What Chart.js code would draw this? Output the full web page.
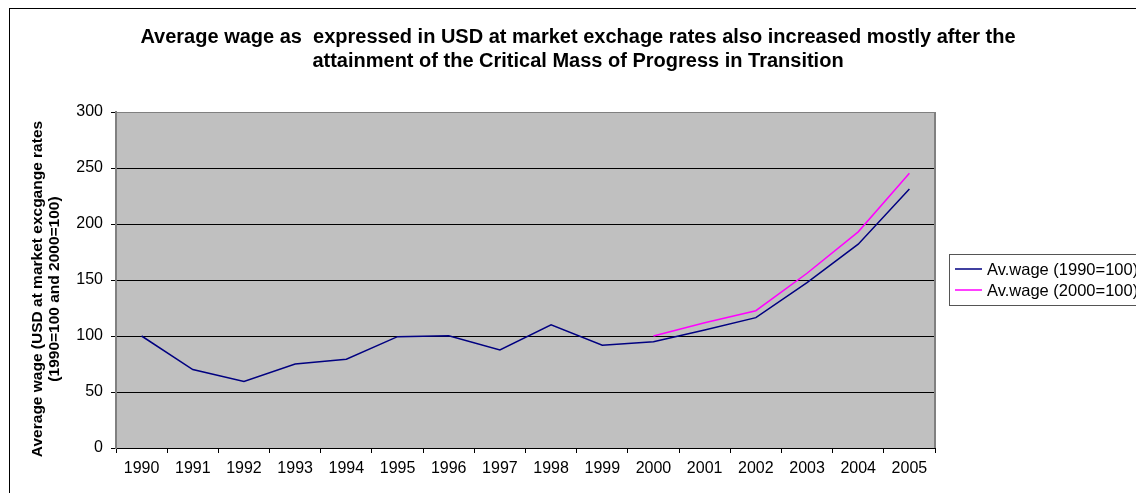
<!DOCTYPE html>
<html>
<head>
<meta charset="utf-8">
<script src="https://cdn.jsdelivr.net/npm/chart.js@4/dist/chart.umd.min.js"></script>
<style>
  html, body { margin: 0; padding: 0; background: #fff; }
  #wrap { width: 1136px; height: 493px; position: relative; }
</style>
</head>
<body>
<div id="wrap"><canvas id="wageChart"></canvas></div>
<script>
const years = ['1990', '1991', '1992', '1993', '1994', '1995', '1996', '1997',
  '1998', '1999', '2000', '2001', '2002', '2003', '2004', '2005'];
const wage1990 = [100, 70, 59.5, 75, 79.2, 99.4, 100.3, 87.5, 110, 91.7, 94.8,
  105.4, 116.4, 147.6, 182, 231.3];
const wage2000 = [null, null, null, null, null, null, null, null, null, null,
  100, 111.8, 122.6, 156, 193, 245.3];
const yTicks = [0, 50, 100, 150, 200, 250, 300];

const titleLines = [
  'Average wage as  expressed in USD at market exchage rates also increased mostly after the',
  'attainment of the Critical Mass of Progress in Transition'
];
const yTitleLines = [
  'Average wage (USD at market excgange rates',
  '(1990=100 and 2000=100)'
];

const FONT = '"Liberation Sans", Arial, sans-serif';

// background, frame, title, axis title and legend
const decor = {
  id: 'decor',
  beforeDraw(chart) {
    const { ctx, chartArea: a } = chart;
    ctx.save();
    ctx.fillStyle = '#fff';
    ctx.fillRect(0, 0, chart.width, chart.height);
    ctx.strokeStyle = '#000';
    ctx.lineWidth = 1;
    ctx.strokeRect(9.5, 8.5, chart.width + 20, chart.height + 20);
    ctx.fillStyle = '#c0c0c0';
    ctx.fillRect(a.left, a.top, a.right - a.left, a.bottom - a.top);
    ctx.restore();
  },
  afterDraw(chart) {
    const { ctx, chartArea: a } = chart;
    ctx.save();
    // right edge of plot
    ctx.strokeStyle = '#808080';
    ctx.lineWidth = 2;
    ctx.beginPath();
    ctx.moveTo(a.right, a.top);
    ctx.lineTo(a.right, a.bottom);
    ctx.stroke();

    // title
    ctx.fillStyle = '#000';
    ctx.font = 'bold 20px ' + FONT;
    ctx.textAlign = 'center';
    ctx.textBaseline = 'middle';
    ctx.fillText(titleLines[0], 578, 37);
    ctx.fillText(titleLines[1], 578, 61);

    // y axis title
    ctx.save();
    ctx.translate(0, 289);
    ctx.rotate(-Math.PI / 2);
    ctx.font = 'bold 15.5px ' + FONT;
    ctx.fillText(yTitleLines[0], 0, 38);
    ctx.fillText(yTitleLines[1], 0, 55);
    ctx.restore();

    // legend
    ctx.strokeStyle = '#555';
    ctx.lineWidth = 1;
    ctx.strokeRect(949.5, 254.5, 200, 51);
    ctx.font = '16.5px ' + FONT;
    ctx.textAlign = 'left';
    const rows = [269, 290];
    chart.data.datasets.forEach((ds, i) => {
      ctx.strokeStyle = ds.borderColor;
      ctx.lineWidth = 1.5;
      ctx.beginPath();
      ctx.moveTo(955, rows[i]);
      ctx.lineTo(982, rows[i]);
      ctx.stroke();
      ctx.fillStyle = '#000';
      ctx.fillText(ds.label, 987, rows[i] + 1);
    });
    ctx.restore();
  }
};

const ctx = document.getElementById('wageChart').getContext('2d');
const chart = new Chart(ctx, {
  type: 'line',
  data: {
    labels: years,
    datasets: [
      {
        label: 'Av.wage (1990=100)',
        data: wage1990,
        borderColor: '#000080',
        borderWidth: 1.5,
        pointRadius: 0,
        tension: 0
      },
      {
        label: 'Av.wage (2000=100)',
        data: wage2000,
        borderColor: '#ff00ff',
        borderWidth: 1.5,
        pointRadius: 0,
        tension: 0,
        spanGaps: false
      }
    ]
  },
  options: {
    responsive: true,
    maintainAspectRatio: false,
    animation: false,
    layout: { padding: { left: 0, top: 112, right: 201, bottom: 0 } },
    plugins: {
      legend: { display: false },
      title: { display: false },
      tooltip: { enabled: false }
    },
    scales: {
      x: {
        type: 'category',
        offset: true,
        grid: {
          offset: true,
          drawOnChartArea: false,
          drawTicks: true,
          tickLength: 5,
          color: '#000'
        },
        border: { display: true, color: '#000', width: 1 },
        ticks: {
          color: '#000',
          font: { family: FONT, size: 16 },
          padding: 6,
          maxRotation: 0,
          autoSkip: false
        },
        afterFit(scale) { scale.height = 45; }
      },
      y: {
        min: 0,
        max: 300,
        afterBuildTicks(scale) { scale.ticks = yTicks.map(v => ({ value: v })); },
        grid: {
          color: c => (c.tick && c.tick.value === 300 ? '#808080' : '#000'),
          tickColor: '#000',
          tickLength: 5,
          lineWidth: 1
        },
        border: { display: true, color: '#808080', width: 2 },
        ticks: {
          color: '#000',
          font: { family: FONT, size: 16 },
          padding: 8
        },
        afterFit(scale) { scale.width = 116; }
      }
    }
  },
  plugins: [decor]
});
</script>
</body>
</html>
